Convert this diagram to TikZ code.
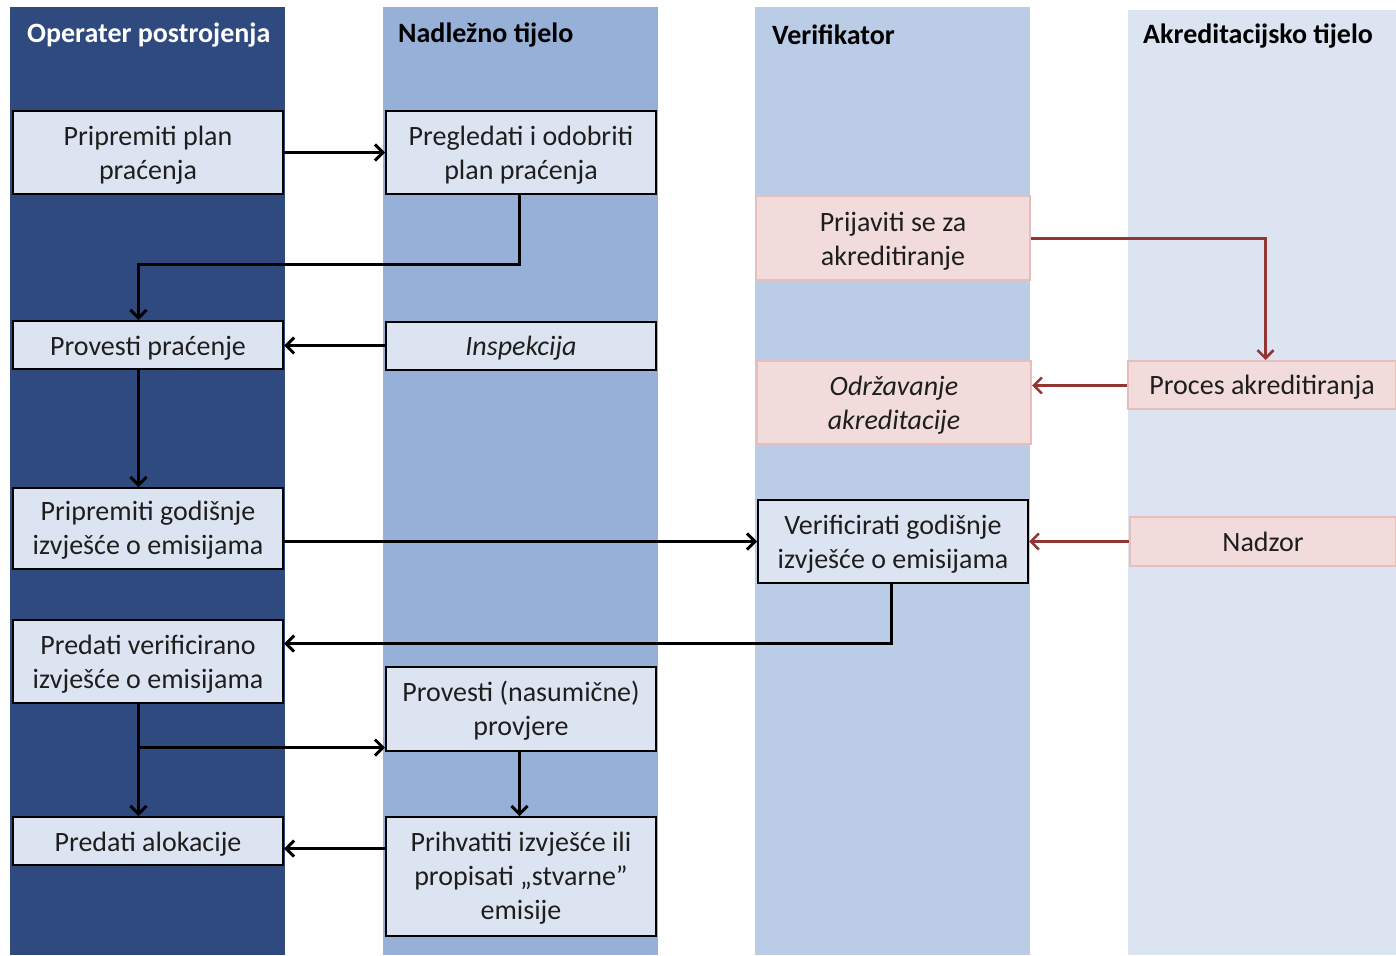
\documentclass[tikz,border=0pt]{standalone}
\usepackage{fontspec}
\setmainfont{Carlito}
\usetikzlibrary{arrows.meta,positioning,calc}
\definecolor{laneA}{RGB}{46,74,127}
\definecolor{laneB}{RGB}{150,176,216}
\definecolor{laneC}{RGB}{186,204,230}
\definecolor{laneD}{RGB}{220,228,241}
\definecolor{boxfill}{RGB}{221,228,241}
\definecolor{pinkfill}{RGB}{242,220,219}
\definecolor{pinkdraw}{RGB}{232,190,188}
\definecolor{redarrow}{RGB}{146,54,52}
\definecolor{txt}{RGB}{30,30,30}
\tikzset{
  boxtext/.style={align=center, inner sep=0pt, text=txt, font=\fontsize{28}{34}\selectfont},
  oneline/.style={execute at begin node={\rule{0pt}{25pt}}},
  twoline/.style={text height=59pt},
  bluebox/.style={boxtext, draw=black, line width=2pt, fill=boxfill, minimum width=270pt},
  pinkbox/.style={boxtext, draw=pinkdraw, line width=2pt, fill=pinkfill},
  hdr/.style={anchor=west, inner sep=0pt, font=\bfseries\fontsize{28}{32}\selectfont},
  conn/.style={draw=black, line width=3pt, -{Straight Barb[length=8pt,width=16pt,line width=3pt]}},
  redconn/.style={draw=redarrow, line width=3pt, -{Straight Barb[length=8pt,width=16pt,line width=2.6pt]}}
}
\begin{document}
\begin{tikzpicture}[x=1pt,y=-1pt]
\useasboundingbox (0,0) rectangle (1396,955);
\fill[white] (0,0) rectangle (1396,955);
% lanes
\fill[laneA] (10,7) rectangle (285,955);
\fill[laneB] (383,7) rectangle (658,955);
\fill[laneC] (755,7) rectangle (1030,955);
\fill[laneD] (1128,10) rectangle (1396,955);
% headers
\node[hdr, text=white] (h1) at (27,35) {Operater postrojenja};
\node[hdr, text=black] (h2) at (398,35) {Nadležno tijelo};
\node[hdr, text=black] (h3) at (772,35) {Verifikator};
\node[hdr, text=black] (h4) at (1143,36) {Akreditacijsko tijelo};
% blue boxes
\node[bluebox, twoline, minimum height=83pt] (b1) at (148,152.5) {Pripremiti plan\\praćenja};
\node[bluebox, twoline, minimum height=83pt] (b2) at (521,152.5) {Pregledati i odobriti\\plan praćenja};
\node[bluebox, oneline, minimum height=48pt] (b3) at (148,345) {Provesti praćenje};
\node[bluebox, oneline, minimum height=48pt] (b4) at (521,345.5) {\itshape Inspekcija};
\node[bluebox, text height=56pt, minimum height=81pt] (b5) at (148,528.5) {Pripremiti godišnje\\izvješće o emisijama};
\node[bluebox, text height=58pt, minimum height=83pt] (b6) at (148,661.5) {Predati verificirano\\izvješće o emisijama};
\node[bluebox, text height=58pt, minimum height=84pt] (b7) at (521,709) {Provesti (nasumične)\\provjere};
\node[bluebox, oneline, minimum height=48pt] (b8) at (148,841) {Predati alokacije};
\node[bluebox, text height=90pt, minimum height=119pt] (b9) at (521,876.5) {Prihvatiti izvješće ili\\propisati „stvarne”\\emisije};
\node[bluebox, text height=58pt, minimum height=83pt] (b10) at (893,541.5) {Verificirati godišnje\\izvješće o emisijama};
% pink boxes
\node[pinkbox, text height=59pt, minimum width=274pt, minimum height=84pt] (p1) at (893,238) {Prijaviti se za\\akreditiranje};
\node[pinkbox, text height=58pt, minimum width=274pt, minimum height=83pt] (oa) at (894,402.5) {\itshape Održavanje\\\itshape akreditacije};
\node[pinkbox, execute at begin node={\rule{0pt}{23pt}}, minimum width=268pt, minimum height=48pt] (pa) at (1262,385) {Proces akreditiranja};
\node[pinkbox, minimum width=266pt, minimum height=49pt] (nz) at (1263,541.5) {Nadzor};
% coordinates
\coordinate (j2) at (519.5,264.5);
\coordinate (j10) at (891.5,643.5);
\coordinate (br) at (138.5,747.5);
\coordinate (k9) at (386,848.5);
\coordinate (r1) at (1265.5,238.5);
% black connectors
\draw[conn] (b1) -- (b2);
\draw[conn] ([xshift=-1.5pt]b2.south) -- (j2) -| ([xshift=-9.5pt]b3.north);
\draw[conn] (b4.west) -- (b4.west -| b3.east);
\draw[conn] ([xshift=-9.5pt]b3.south) -- ([xshift=-9.5pt]b5.north);
\draw[conn] (b5.east |- b10.west) -- (b10.west);
\draw[conn] ([xshift=-1.5pt]b10.south) -- (j10) -- (j10 -| b6.east);
\draw[conn] ([xshift=-9.5pt]b6.south) -- ([xshift=-9.5pt]b8.north);
\draw[conn] (br) -- (br -| b7.west);
\draw[conn] ([xshift=-1.5pt]b7.south) -- ([xshift=-1.5pt]b9.north);
\draw[conn] (k9) -- (k9 -| b8.east);
% red connectors
\draw[redconn] (r1 -| p1.east) -- (r1) -- (r1 |- pa.north);
\draw[redconn] ([yshift=-0.5pt]pa.west) -- ([yshift=-0.5pt]pa.west -| oa.east);
\draw[redconn] (nz.west) -- (nz.west -| b10.east);
\end{tikzpicture}
\end{document}
